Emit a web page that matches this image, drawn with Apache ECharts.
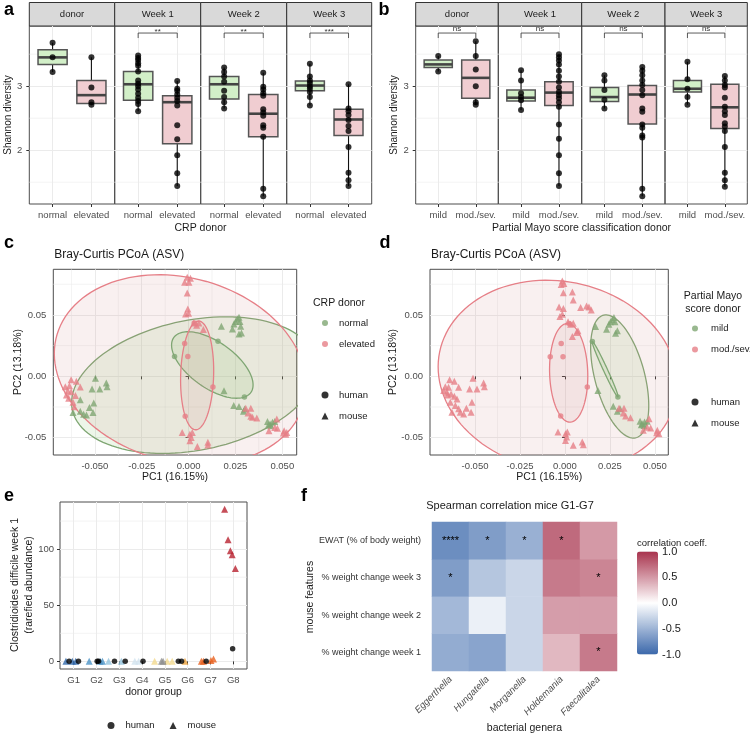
<!DOCTYPE html>
<html>
<head>
<meta charset="utf-8">
<script src="https://cdn.jsdelivr.net/npm/echarts@6/dist/echarts.min.js"></script>
<style>
  html, body { margin: 0; padding: 0; background: #fff; }
  #main { width: 750px; height: 735px; }
</style>
</head>
<body>
<div id="main"></div>
<script>
// ---------- a / b : Shannon diversity ----------
const facets = ['donor', 'Week 1', 'Week 2', 'Week 3']
const crpGroups = ['normal', 'elevated']
const mayoGroups = ['mild', 'mod./sev.']

// points per facet: [first group, second group]
const crpPoints = [
  [[3.68, 3.45, 3.22], [3.45, 2.98, 2.75, 2.71]],
  [[3.48, 3.44, 3.41, 3.36, 3.32, 3.23, 3.09, 3.04, 3.00, 2.95, 2.88, 2.82, 2.77, 2.72, 2.61],
   [3.08, 2.96, 2.93, 2.87, 2.82, 2.77, 2.70, 2.39, 2.17, 1.92, 1.64, 1.44]],
  [[3.29, 3.22, 3.15, 3.07, 2.93, 2.83, 2.75, 2.65],
   [3.21, 2.99, 2.95, 2.89, 2.85, 2.64, 2.59, 2.54, 2.39, 2.35, 2.21, 1.40, 1.28]],
  [[3.35, 3.15, 3.09, 3.05, 3.00, 2.96, 2.91, 2.83, 2.70],
   [3.03, 2.65, 2.61, 2.55, 2.47, 2.38, 2.30, 2.05, 1.65, 1.53, 1.44]]
]
// [q1, median, q3]
const crpBoxes = [
  [[3.34, 3.45, 3.57], [2.73, 2.86, 3.09]],
  [[2.78, 3.03, 3.23], [2.10, 2.75, 2.85]],
  [[2.80, 3.03, 3.15], [2.21, 2.57, 2.87]],
  [[2.93, 3.01, 3.08], [2.23, 2.48, 2.64]]
]
const crpSignif = ['', '**', '**', '***']

const mayoPoints = [
  [[3.47, 3.23], [3.70, 3.47, 3.26, 3.00, 2.75, 2.71]],
  [[3.25, 3.09, 2.89, 2.83, 2.78, 2.63],
   [3.50, 3.45, 3.40, 3.34, 3.24, 3.15, 3.07, 2.98, 2.91, 2.86, 2.81, 2.75, 2.68, 2.40, 2.18, 1.92, 1.64, 1.44]],
  [[3.17, 3.09, 2.94, 2.79, 2.65],
   [3.30, 3.24, 3.17, 3.09, 3.02, 2.94, 2.86, 2.65, 2.60, 2.40, 2.35, 2.23, 2.20, 1.40, 1.28]],
  [[3.38, 3.11, 2.96, 2.83, 2.71],
   [3.16, 3.09, 3.02, 2.98, 2.82, 2.68, 2.61, 2.55, 2.42, 2.37, 2.30, 2.05, 1.65, 1.53, 1.43]]
]
const mayoBoxes = [
  [[3.29, 3.34, 3.41], [2.81, 3.13, 3.41]],
  [[2.77, 2.82, 2.94], [2.70, 2.90, 3.07]],
  [[2.76, 2.83, 2.98], [2.41, 2.87, 3.01]],
  [[2.91, 2.96, 3.09], [2.34, 2.67, 3.03]]
]
const mayoSignif = ['ns', 'ns', 'ns', 'ns']

// ---------- c / d : Bray-Curtis PCoA ----------
const cNormalMice = [
  [-0.0497, -0.0016], [-0.0439, -0.0055], [-0.0435, -0.0084], [-0.0515, -0.0104], [-0.0474, -0.0104],
  [-0.0578, -0.0190], [-0.0506, -0.0218], [-0.0529, -0.0253], [-0.0617, -0.0294], [-0.0578, -0.0285],
  [-0.0560, -0.0308], [-0.0545, -0.0316], [-0.0510, -0.0294],
  [0.0175, 0.0408], [0.0242, 0.0427], [0.0251, 0.0446], [0.0260, 0.0467], [0.0269, 0.0481],
  [0.0274, 0.0446], [0.0234, 0.0386], [0.0278, 0.0408], [0.0282, 0.0353], [0.0269, 0.0345],
  [0.0189, -0.0117],
  [0.0269, -0.0245], [0.0293, -0.0285], [0.0299, -0.0267], [0.0241, -0.0237],
  [0.0421, -0.0369], [0.0435, -0.0389], [0.0448, -0.0375], [0.0460, -0.0369], [0.0439, -0.0402], [0.0426, -0.0397]
]
const cElevatedMice = [
  [-0.0627, -0.0027], [-0.0599, -0.0041], [-0.0658, -0.0084], [-0.0636, -0.0076], [-0.0578, -0.0087],
  [-0.0645, -0.0117], [-0.0627, -0.0125], [-0.0652, -0.0153], [-0.0604, -0.0157], [-0.0640, -0.0179],
  [-0.0617, -0.0212], [-0.0610, -0.0247],
  [-0.0007, 0.0808], [-0.0021, 0.0767], [0.0002, 0.0767], [0.0010, 0.0800], [-0.0007, 0.0679],
  [-0.0004, 0.0549], [-0.0016, 0.0508], [0.0000, 0.0514], [0.0028, 0.0435], [0.0055, 0.0435],
  [0.0043, 0.0416], [0.0079, 0.0381],
  [0.0305, -0.0261], [0.0332, -0.0261], [0.0317, -0.0299], [0.0341, -0.0334], [0.0364, -0.0340], [0.0332, -0.0326],
  [0.0471, -0.0348], [0.0429, -0.0443], [0.0460, -0.0416], [0.0474, -0.0424], [0.0510, -0.0443],
  [0.0519, -0.0471], [0.0506, -0.0462], [0.0524, -0.0457],
  [-0.0034, -0.0457], [0.0007, -0.0471], [0.0020, -0.0457], [0.0014, -0.0498], [0.0007, -0.0524],
  [0.0047, -0.0571], [0.0103, -0.0538], [0.0103, -0.0560]
]
const cNormalHumans = [[-0.0075, 0.0161], [0.0157, 0.0285], [0.0298, -0.0169]]
const cElevatedHumans = [[-0.0004, 0.0161], [0.0130, -0.0087], [-0.0018, -0.0326], [-0.0021, 0.0268], [0.0030, 0.0435]]

const dMildMice = [
  [0.0170, 0.0406], [0.0244, 0.0424], [0.0253, 0.0444], [0.0263, 0.0460], [0.0272, 0.0479],
  [0.0278, 0.0444], [0.0231, 0.0384], [0.0281, 0.0351], [0.0291, 0.0371],
  [0.0183, -0.0116],
  [0.0268, -0.0243], [0.0291, -0.0284], [0.0306, -0.0265],
  [0.0417, -0.0367], [0.0429, -0.0387], [0.0442, -0.0373], [0.0457, -0.0367], [0.0439, -0.0400], [0.0424, -0.0395]
]
const dModSevMice = [
  [-0.0641, -0.0027], [-0.0615, -0.0041], [-0.0665, -0.0084], [-0.0647, -0.0089], [-0.0591, -0.0089],
  [-0.0674, -0.0116], [-0.0656, -0.0130], [-0.0633, -0.0144], [-0.0652, -0.0152], [-0.0615, -0.0162],
  [-0.0600, -0.0184], [-0.0637, -0.0211], [-0.0609, -0.0238], [-0.0591, -0.0265], [-0.0582, -0.0292],
  [-0.0563, -0.0306], [-0.0628, -0.0292], [-0.0522, -0.0292], [-0.0548, -0.0260], [-0.0517, -0.0211],
  [-0.0530, -0.0103], [-0.0489, -0.0103], [-0.0511, -0.0016], [-0.0452, -0.0054], [-0.0448, -0.0084],
  [-0.0015, 0.0776], [-0.0021, 0.0749], [-0.0006, 0.0757], [-0.0009, 0.0681], [0.0041, 0.0687],
  [0.0046, 0.0622], [-0.0033, 0.0565], [-0.0009, 0.0552], [-0.0015, 0.0505], [-0.0028, 0.0487],
  [0.0087, 0.0560], [0.0120, 0.0573], [0.0133, 0.0565], [0.0146, 0.0541], [0.0017, 0.0444],
  [0.0031, 0.0424], [0.0046, 0.0432], [0.0072, 0.0371], [0.0064, 0.0357], [0.0041, 0.0324],
  [0.0300, -0.0260], [0.0328, -0.0260], [0.0324, -0.0298], [0.0337, -0.0324], [0.0364, -0.0338],
  [0.0467, -0.0346], [0.0435, -0.0440], [0.0457, -0.0414], [0.0476, -0.0422], [0.0513, -0.0440],
  [0.0522, -0.0468], [0.0509, -0.0460],
  [-0.0039, -0.0454], [0.0003, -0.0468], [0.0013, -0.0454], [0.0009, -0.0495], [0.0003, -0.0522],
  [0.0046, -0.0562], [0.0096, -0.0535], [0.0102, -0.0557]
]
const dMildHumans = [[0.0152, 0.0284], [0.0294, -0.0168]]
const dModSevHumans = [[-0.0021, 0.0268], [-0.0082, 0.0160], [-0.0011, 0.0160], [0.0124, -0.0087], [-0.0024, -0.0324], [0.0025, 0.0428]]

// ---------- e : C. difficile ----------
const eGroups = ['G1', 'G2', 'G3', 'G4', 'G5', 'G6', 'G7', 'G8']
const eGroupColors = ['#2f68aa', '#4b93c7', '#93c4de', '#d2e4ef', '#f3da8e', '#eca23c', '#e9621f', '#b8222f', '#8f8f8f']
// [x (group + jitter), abundance]
const eMice = [
  [0.66, 0], [0.94, 0], [1.09, 0],
  [1.68, 0], [2.16, 0], [2.26, 0],
  [2.53, 0], [3.09, 0],
  [3.68, 0], [3.85, 0],
  [4.55, 0], [5.10, 0], [5.32, 0], [4.85, 0], [4.92, 0],
  [5.88, 0],
  [6.60, 0], [6.69, 0], [7.02, 0.8], [7.13, 2],
  [7.62, 135.6], [7.77, 108.3], [7.87, 98.6], [7.95, 95.0], [8.09, 82.7]
]
const eMiceColor = [0, 0, 0, 1, 1, 1, 2, 2, 3, 3, 4, 4, 4, 8, 8, 5, 6, 6, 6, 6, 7, 7, 7, 7, 7]
const eHumans = [
  [0.80, 0], [1.21, 0], [2.03, 0], [2.09, 0], [2.79, 0], [3.26, 0],
  [4.04, 0], [5.59, 0], [5.73, 0], [6.81, 0], [7.97, 11.2]
]

// ---------- f : Spearman heatmap ----------
const genera = ['Eggerthella', 'Hungatella', 'Morganella', 'Holdemania', 'Faecalitalea']
const features = ['% weight change week 1', '% weight change week 2', '% weight change week 3', 'EWAT (% of body weight)']
const corr = [
  [-0.55, -0.60, -0.27, 0.35, 0.65],
  [-0.47, -0.10, -0.27, 0.48, 0.48],
  [-0.65, -0.38, -0.27, 0.65, 0.60],
  [-0.75, -0.65, -0.52, 0.73, 0.50]
]
const corrSignif = [
  ['', '', '', '', '*'],
  ['', '', '', '', ''],
  ['*', '', '', '', '*'],
  ['****', '*', '*', '*', '']
]

// ---------- drawing ----------
const FONT = "'Liberation Sans', Arial, Helvetica, sans-serif"
const GREEN = '#7fa673'
const PINK = '#e67f87'
const BOX_FILL = ['#d2efc8', '#f0cdd1']
const BORDER = '#4d4d4d'
const GRIDC = '#ebebeb'
const TICKC = '#4d4d4d'
const TICK_FS = 9.5
const TITLE_FS = 10.5

const grids = [], xAxes = [], yAxes = [], series = [], graphics = [], legends = []

function addGrid(box, xAxis, yAxis) {
  const gi = grids.length
  grids.push(Object.assign({ show: true, borderColor: BORDER, borderWidth: 1, outerBoundsMode: 'none' }, box))
  xAxes.push(Object.assign({ gridIndex: gi }, xAxis))
  yAxes.push(Object.assign({ gridIndex: gi }, yAxis))
  return gi
}

function valueAxis(min, max, ticks, fmt, showLabels, margin) {
  return {
    type: 'value', min, max,
    axisLine: { show: false },
    axisTick: { show: showLabels, customValues: ticks, length: 3, lineStyle: { color: '#333' } },
    axisLabel: { show: showLabels, customValues: ticks, formatter: fmt, color: TICKC, fontSize: TICK_FS, margin },
    splitLine: { show: true, lineStyle: { color: GRIDC, width: 1 } }
  }
}

function minorLines(gi, xs, ys) {
  series.push({
    type: 'custom', xAxisIndex: gi, yAxisIndex: gi, z: 0, silent: true,
    data: xs.map(v => [v, v, 0]).concat(ys.map(v => [v, v, 1])),
    encode: { x: 0, y: 1 },
    renderItem(params, api) {
      const cs = params.coordSys
      const p = api.coord([api.value(0), api.value(1)])
      const shape = api.value(2) === 0
        ? { x1: p[0], y1: cs.y, x2: p[0], y2: cs.y + cs.height }
        : { x1: cs.x, y1: p[1], x2: cs.x + cs.width, y2: p[1] }
      return { type: 'line', shape, style: { stroke: GRIDC, lineWidth: 0.6 } }
    }
  })
}

function text(str, x, y, opts) {
  graphics.push(Object.assign({
    type: 'text', x, y, silent: true,
    style: Object.assign({ text: str, fill: '#1a1a1a', fontSize: TITLE_FS, fontFamily: FONT, align: 'center', verticalAlign: 'middle' }, opts && opts.style)
  }, opts && opts.el))
}

function boxFacets(edges, groups, points, boxes, signif) {
  facets.forEach((name, f) => {
    const left = edges[f], right = edges[f + 1]
    const gi = addGrid({ left, top: 26, width: right - left, height: 178 },
      valueAxis(0.4, 2.6, [1, 2], v => groups[Math.round(v) - 1], true, 6),
      valueAxis(1.16, 3.94, [2, 3], v => String(v), f === 0, 7))
    minorLines(gi, [], [1.5, 2.5, 3.5])

    graphics.push({ type: 'rect', silent: true, shape: { x: left, y: 2.5, width: right - left, height: 23.5 },
      style: { fill: '#d9d9d9', stroke: '#333', lineWidth: 1 } })
    text(name, (left + right) / 2, 14.5, { style: { fontSize: 9.5 } })

    const boxData = boxes[f].map((b, g) => {
      const vals = points[f][g]
      return [g + 1, Math.min(...vals), b[0], b[1], b[2], Math.max(...vals)]
    })
    series.push({
      type: 'custom', xAxisIndex: gi, yAxisIndex: gi, z: 2, silent: true,
      data: boxData, encode: { x: 0, y: [1, 2, 3, 4, 5] },
      renderItem(params, api) {
        const x = api.value(0), hw = 0.375
        const lo = api.coord([x, api.value(1)]), hi = api.coord([x, api.value(5)])
        const tl = api.coord([x - hw, api.value(4)]), br = api.coord([x + hw, api.value(2)])
        const m1 = api.coord([x - hw, api.value(3)]), m2 = api.coord([x + hw, api.value(3)])
        return { type: 'group', children: [
          { type: 'line', shape: { x1: lo[0], y1: lo[1], x2: hi[0], y2: hi[1] }, style: { stroke: '#111', lineWidth: 1.1 } },
          { type: 'rect', shape: { x: tl[0], y: tl[1], width: br[0] - tl[0], height: br[1] - tl[1] },
            style: { fill: BOX_FILL[params.dataIndex], stroke: '#555', lineWidth: 1.5 } },
          { type: 'line', shape: { x1: m1[0], y1: m1[1], x2: m2[0], y2: m2[1] }, style: { stroke: '#444', lineWidth: 2.6 } }
        ] }
      }
    })
    const dots = []
    points[f].forEach((vals, g) => vals.forEach(v => dots.push([g + 1, v])))
    series.push({ type: 'scatter', xAxisIndex: gi, yAxisIndex: gi, z: 3, silent: true,
      symbol: 'circle', symbolSize: 6, itemStyle: { color: '#000' }, data: dots })

    if (signif[f]) {
      series.push({
        type: 'custom', xAxisIndex: gi, yAxisIndex: gi, z: 3, silent: true,
        data: [[1, 2, 3.83]], encode: { x: [0, 1], y: 2 },
        renderItem(params, api) {
          const a = api.coord([api.value(0), api.value(2)]), b = api.coord([api.value(1), api.value(2)])
          const lab = signif[f]
          const star = lab.indexOf('*') >= 0
          return { type: 'group', children: [
            { type: 'polyline', shape: { points: [[a[0], a[1] + 5], a, b, [b[0], b[1] + 5]] },
              style: { stroke: '#333', lineWidth: 0.8, fill: null } },
            { type: 'text', x: (a[0] + b[0]) / 2, y: a[1] + (star ? 3 : -0.5),
              style: { text: lab, fontSize: 8, lineHeight: 8, fontFamily: FONT, fill: '#333', align: 'center', verticalAlign: 'bottom' } }
          ] }
        }
      })
    }
  })
}

boxFacets([29.3, 114.7, 200.7, 286.7, 371.7], crpGroups, crpPoints, crpBoxes, crpSignif)
boxFacets([415.7, 498.3, 581.7, 665, 747.3], mayoGroups, mayoPoints, mayoBoxes, mayoSignif)
text('Shannon diversity', 8.5, 115, { el: { rotation: Math.PI / 2 }, style: { fontSize: 10 } })
text('Shannon diversity', 394, 115, { el: { rotation: Math.PI / 2 }, style: { fontSize: 10 } })
text('CRP donor', 200.5, 228)
text('Partial Mayo score classification donor', 581.5, 228)

// minimum enclosing ellipse (Khachiyan), as geom_mark_ellipse draws it
function inv3(m) {
  const [a, b, c] = m[0], [d, e, f] = m[1], [g, h, i] = m[2]
  const A = e * i - f * h, B = -(d * i - f * g), C = d * h - e * g
  const det = a * A + b * B + c * C
  return [
    [A / det, -(b * i - c * h) / det, (b * f - c * e) / det],
    [B / det, (a * i - c * g) / det, -(a * f - c * d) / det],
    [C / det, -(a * h - b * g) / det, (a * e - b * d) / det]
  ]
}

function enclosingEllipse(pts) {
  const n = pts.length, path = [], seg = 120
  if (n < 3) {
    const [p, q] = pts
    const cx = (p[0] + q[0]) / 2, cy = (p[1] + q[1]) / 2
    const ax = (q[0] - p[0]) / 2, ay = (q[1] - p[1]) / 2
    const bx = -ay * 0.05, by = ax * 0.05
    for (let k = 0; k <= seg; k++) {
      const t = 2 * Math.PI * k / seg
      path.push([cx + ax * Math.cos(t) + bx * Math.sin(t), cy + ay * Math.cos(t) + by * Math.sin(t)])
    }
    return path
  }
  let u = new Array(n).fill(1 / n)
  for (let it = 0; it < 20000; it++) {
    const X = [[0, 0, 0], [0, 0, 0], [0, 0, 0]]
    pts.forEach((p, i) => {
      const q = [p[0], p[1], 1]
      for (let a = 0; a < 3; a++) for (let b = 0; b < 3; b++) X[a][b] += u[i] * q[a] * q[b]
    })
    const Xi = inv3(X)
    let j = 0, mMax = -Infinity
    pts.forEach((p, i) => {
      const q = [p[0], p[1], 1]
      let m = 0
      for (let a = 0; a < 3; a++) for (let b = 0; b < 3; b++) m += q[a] * Xi[a][b] * q[b]
      if (m > mMax) { mMax = m; j = i }
    })
    const step = (mMax - 3) / (3 * (mMax - 1))
    if (step < 1e-6) break
    u = u.map((v, i) => (1 - step) * v + (i === j ? step : 0))
  }
  let cx = 0, cy = 0
  pts.forEach((p, i) => { cx += u[i] * p[0]; cy += u[i] * p[1] })
  let sxx = 0, sxy = 0, syy = 0
  pts.forEach((p, i) => {
    const dx = p[0] - cx, dy = p[1] - cy
    sxx += u[i] * dx * dx; sxy += u[i] * dx * dy; syy += u[i] * dy * dy
  })
  const det = sxx * syy - sxy * sxy
  let r2 = 0
  pts.forEach(p => {
    const dx = p[0] - cx, dy = p[1] - cy
    r2 = Math.max(r2, (syy * dx * dx - 2 * sxy * dx * dy + sxx * dy * dy) / det)
  })
  const r = Math.sqrt(r2)
  const l11 = Math.sqrt(sxx), l21 = sxy / l11, l22 = Math.sqrt(syy - l21 * l21)
  for (let k = 0; k <= seg; k++) {
    const t = 2 * Math.PI * k / seg, c = Math.cos(t), s = Math.sin(t)
    path.push([cx + r * l11 * c, cy + r * (l21 * c + l22 * s)])
  }
  return path
}

const ELL_FILL = { [GREEN]: 'rgba(140,200,120,0.16)', [PINK]: 'rgba(205,130,130,0.12)' }

function pcoaPanel(left, right, xMin, xMax, groups) {
  const fmtX = v => v.toFixed(3), fmtY = v => v.toFixed(2)
  const gi = addGrid({ left, top: 269.3, width: right - left, height: 185.7 },
    valueAxis(xMin, xMax, [-0.05, -0.025, 0, 0.025, 0.05], fmtX, true, 6),
    valueAxis(-0.0641, 0.0872, [-0.05, 0, 0.05], fmtY, true, 7))
  minorLines(gi, [-0.0625, -0.0375, -0.0125, 0.0125, 0.0375], [-0.025, 0.025, 0.075])

  const ells = []
  groups.forEach(g => { ells.push({ path: enclosingEllipse(g.mice), color: g.color }) })
  groups.forEach(g => { ells.push({ path: enclosingEllipse(g.humans), color: g.color }) })
  series.push({
    type: 'custom', xAxisIndex: gi, yAxisIndex: gi, z: 1, silent: true, clip: true,
    data: ells.map((e, i) => [e.path[0][0], e.path[0][1], i]), encode: { x: 0, y: 1 },
    renderItem(params, api) {
      const e = ells[api.value(2)]
      return { type: 'polygon', shape: { points: e.path.map(p => api.coord(p)) },
        style: { fill: ELL_FILL[e.color], stroke: e.color, lineWidth: 1.3 } }
    }
  })
  groups.forEach(g => {
    const data = g.mice.map(p => ({ value: p, symbol: 'triangle', symbolSize: 7 }))
      .concat(g.humans.map(p => ({ value: p, symbol: 'circle', symbolSize: 5.5 })))
    series.push({ type: 'scatter', name: g.name, xAxisIndex: gi, yAxisIndex: gi, z: 3, silent: true,
      itemStyle: { color: g.color }, data })
  })
  series.push({ type: 'scatter', name: 'human', xAxisIndex: gi, yAxisIndex: gi, data: [], symbol: 'circle', itemStyle: { color: '#000' } })
  series.push({ type: 'scatter', name: 'mouse', xAxisIndex: gi, yAxisIndex: gi, data: [], symbol: 'triangle', itemStyle: { color: '#000' } })

  const mid = (left + right) / 2
  text('Bray-Curtis PCoA (ASV)', left + 1, 255, { style: { fontSize: 12, align: 'left' } })
  text('PC1 (16.15%)', mid, 477)
}

pcoaPanel(53.3, 296.7, -0.0722, 0.0577, [
  { name: 'normal', color: GREEN, mice: cNormalMice, humans: cNormalHumans },
  { name: 'elevated', color: PINK, mice: cElevatedMice, humans: cElevatedHumans }
])
pcoaPanel(430, 668.3, -0.075, 0.0574, [
  { name: 'mild', color: GREEN, mice: dMildMice, humans: dMildHumans },
  { name: 'mod./sev.', color: PINK, mice: dModSevMice, humans: dModSevHumans }
])
text('PC2 (13.18%)', 18, 362, { el: { rotation: Math.PI / 2 } })
text('PC2 (13.18%)', 393, 362, { el: { rotation: Math.PI / 2 } })

function vLegend(names, icons, size, left, top, pad) {
  legends.push({
    orient: 'vertical', left, top, padding: 0, itemGap: 0, itemWidth: size, itemHeight: size,
    selectedMode: false,
    data: names.map((n, i) => ({ name: n, icon: icons[i] })),
    textStyle: { fontSize: 9.5, lineHeight: 21, color: '#1a1a1a', fontFamily: FONT, padding: [0, 0, 0, pad] }
  })
}
text('CRP donor', 313, 303, { style: { align: 'left' } })
vLegend(crpGroups, ['circle', 'circle'], 6, 322, 312.5, 6)
vLegend(['human', 'mouse'], ['circle', 'triangle'], 7, 321.5, 384.5, 5.5)
text('Partial Mayo\nscore donor', 713, 303, { style: { lineHeight: 13 } })
vLegend(mayoGroups, ['circle', 'circle'], 6, 692, 318, 8)
vLegend(['human', 'mouse'], ['circle', 'triangle'], 7, 691.5, 391.5, 7.5)

// ---------- e ----------
{
  const gi = addGrid({ left: 60, top: 502, width: 187, height: 167 },
    valueAxis(0.4, 8.6, [1, 2, 3, 4, 5, 6, 7, 8], v => eGroups[v - 1], true, 6),
    valueAxis(-6.8, 142, [0, 50, 100], v => String(v), true, 6))
  minorLines(gi, [], [25, 75, 125])
  series.push({ type: 'scatter', name: 'mouse', xAxisIndex: gi, yAxisIndex: gi, z: 3, silent: true,
    symbol: 'triangle', symbolSize: 7, itemStyle: { color: '#000' },
    data: eMice.map((p, i) => ({ value: p, itemStyle: { color: eGroupColors[eMiceColor[i]] } })) })
  series.push({ type: 'scatter', name: 'human', xAxisIndex: gi, yAxisIndex: gi, z: 4, silent: true,
    symbol: 'circle', symbolSize: 5.5, itemStyle: { color: '#000' }, data: eHumans })
  text('Clostridioides difficile week 1\n(rarefied abundance)', 22, 585, { el: { rotation: Math.PI / 2 }, style: { lineHeight: 14 } })
  text('donor group', 153.5, 692)
  legends.push({
    orient: 'horizontal', left: 107.5, top: 720.5, padding: 0, itemGap: 15, itemWidth: 7, itemHeight: 7,
    selectedMode: false,
    data: [{ name: 'human', icon: 'circle' }, { name: 'mouse', icon: 'triangle' }],
    textStyle: { fontSize: 9.5, color: '#1a1a1a', fontFamily: FONT, padding: [0, 0, 0, 6] }
  })
}

// ---------- f ----------
{
  const gi = addGrid({ left: 432, top: 522, width: 185, height: 149, show: false },
    { type: 'category', data: genera, axisLine: { show: false }, axisTick: { show: false },
      axisLabel: { rotate: 45, fontStyle: 'italic', color: TICKC, fontSize: 9.5, margin: 7 }, splitLine: { show: false } },
    { type: 'category', data: features, axisLine: { show: false }, axisTick: { show: false },
      axisLabel: { color: '#333', fontSize: 9, margin: 11 }, splitLine: { show: false } })
  const heat = []
  corr.forEach((row, yi) => row.forEach((v, xi) => heat.push([xi, yi, v])))
  series.push({ type: 'heatmap', xAxisIndex: gi, yAxisIndex: gi, data: heat, silent: true,
    itemStyle: { borderWidth: 0 },
    label: { show: true, formatter: p => corrSignif[p.value[1]][p.value[0]], fontSize: 11, color: '#000' } })
  const heatIndex = series.length - 1

  const gc = addGrid({ left: 637, top: 551.5, width: 21, height: 103, show: false },
    { type: 'value', show: false, min: 0, max: 1 },
    { type: 'value', position: 'right', min: -1, max: 1, interval: 0.5,
      axisLine: { show: false }, axisTick: { show: true, inside: true, length: 4, lineStyle: { color: '#fff', width: 1 } },
      axisLabel: { formatter: v => v.toFixed(1), color: '#1a1a1a', fontSize: 11, margin: 4 }, splitLine: { show: false } })
  series.push({ type: 'scatter', xAxisIndex: gc, yAxisIndex: gc, data: [], z: 10 })

  var visualMap = [{
    type: 'continuous', min: -1, max: 1, seriesIndex: heatIndex, calculable: false, hoverLink: false,
    left: 637, top: 551.5, itemWidth: 21, itemHeight: 103, padding: 0, text: null,
    inRange: { color: ['#3b68ab', '#ffffff', '#a8334d'] }
  }]
  text('Spearman correlation mice G1-G7', 510, 506, { style: { fontSize: 11 } })
  text('correlation coeff.', 637, 543, { style: { fontSize: 9.5, align: 'left' } })
  text('mouse features', 310, 597, { el: { rotation: Math.PI / 2 } })
  text('bacterial genera', 524.5, 728)
}

// panel letters
;[['a', 9, 10], ['b', 384, 10], ['c', 9, 243], ['d', 385, 243], ['e', 9, 496], ['f', 304, 496]].forEach(([s, x, y]) =>
  text(s, x, y, { style: { fontSize: 18, fontWeight: 'bold', fill: '#000' } }))

const chart = echarts.init(document.getElementById('main'))
chart.setOption({
  animation: false,
  textStyle: { fontFamily: FONT },
  grid: grids,
  xAxis: xAxes,
  yAxis: yAxes,
  legend: legends,
  visualMap,
  series,
  graphic: graphics
})
</script>
</body>
</html>
